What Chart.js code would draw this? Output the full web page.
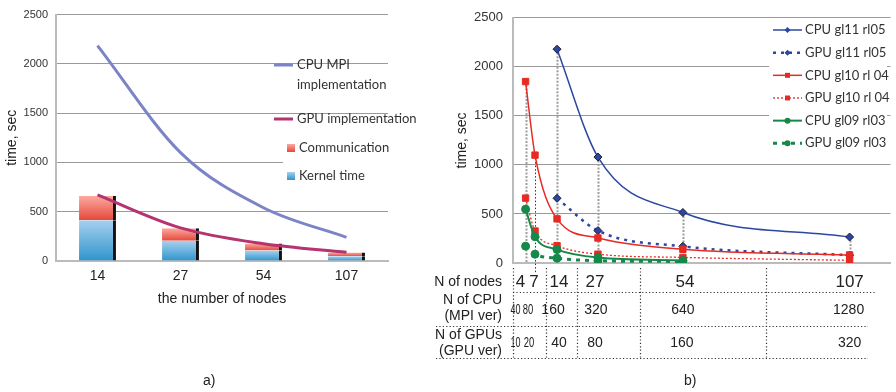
<!DOCTYPE html>
<html><head><meta charset="utf-8">
<script src="https://cdn.jsdelivr.net/npm/chart.js@4.4.0/dist/chart.umd.min.js"></script>
<style>
html,body{margin:0;padding:0;background:#fff;width:896px;height:392px;overflow:hidden;position:relative;font-family:"Liberation Sans",Arial,sans-serif;}
#ca{position:absolute;left:0;top:0;}
#cb{position:absolute;left:430px;top:0;}
.cap{position:absolute;top:372px;font-size:14px;line-height:16px;color:#222;}
</style></head><body>
<canvas id="ca" width="430" height="392"></canvas>
<canvas id="cb" width="466" height="392"></canvas>
<div class="cap" style="left:203px">a)</div>
<div class="cap" style="left:684px">b)</div>
<script>
// ---------- chart a) data ----------
const nodesA = ['14', '27', '54', '107'];
const kernelTime = [413, 205, 106, 47];
const commTime = [247, 128, 72, 39];
const cpuMpi = [2185, 1100, 540, 240];
const gpuImpl = [670, 336, 175, 88];
const legendTextA = [['CPU MPI', 'implementation'], ['GPU implementation'], ['Communication'], ['Kernel time']];

// ---------- chart b) data ----------
const nodesB = [4, 7, 14, 27, 54, 107];
const cpuCountB = [40, 80, 160, 320, 640, 1280];
const gpuCountB = [10, 20, 40, 80, 160, 320];
const cpuGl11 = [null, null, 2180, 1080, 515, 265];
const gpuGl11 = [null, null, 660, 330, 170, 80];
const cpuGl10 = [1850, 1100, 450, 255, 140, 82];
const gpuGl10 = [662, 326, 176, 90, 57, 27];
const cpuGl09 = [549, 268, 137, 55, 25, null];
const gpuGl09 = [172, 90, 49, 23, 16, null];
const tableRowLabels = [['N of nodes'], ['N of CPU', '(MPI ver)'], ['N of GPUs', '(GPU ver)']];
const yTickMax = 2500, yTickStep = 500;

Chart.defaults.font.family = '"Liberation Sans", Arial, sans-serif';
Chart.defaults.color = '#222';

const LEG_FONT = '13px Lato, "Liberation Sans", sans-serif';
const plainTick = v => String(v);

// ---------- chart a) ----------
function barGrad(c, lo, hi, cTop, cBot) {
  const chart = c.chart, y = chart.scales.y;
  if (c.type !== 'data' || !y || !chart.chartArea) return cBot;
  const i = c.dataIndex;
  const top = y.getPixelForValue(hi[i]), bot = y.getPixelForValue(lo[i]);
  if (!isFinite(top) || !isFinite(bot)) return cBot;
  const g = chart.ctx.createLinearGradient(0, top, 0, bot);
  g.addColorStop(0, cTop); g.addColorStop(1, cBot);
  return g;
}
const zeros = nodesA.map(() => 0);
const totals = kernelTime.map((k, i) => k + commTime[i]);

const legendA = {
  id: 'legendA',
  afterDraw(chart) {
    const ctx = chart.ctx;
    const ds = chart.data.datasets;
    ctx.save();
    ctx.fillStyle = '#fff';
    ctx.fillRect(283, 137, 105, 50);
    ctx.font = LEG_FONT; ctx.fillStyle = '#333'; ctx.textBaseline = 'middle'; ctx.textAlign = 'left';
    const lineRows = [65, 119];
    [ds[2], ds[3]].forEach((d, k) => {
      const y = lineRows[k];
      ctx.strokeStyle = d.borderColor; ctx.lineWidth = d.borderWidth;
      ctx.beginPath(); ctx.moveTo(274, y); ctx.lineTo(293, y); ctx.stroke();
      ctx.fillStyle = '#333';
      legendTextA[k].forEach((t, j) => ctx.fillText(t, 297, y + j * 20));
    });
    const boxRows = [148, 176];
    const cols = [['#fcaaa0', '#e4483a'], ['#a6d0ee', '#2f94cc']];
    boxRows.forEach((y, k) => {
      const g = ctx.createLinearGradient(0, y - 4, 0, y + 4);
      g.addColorStop(0, cols[k][0]); g.addColorStop(1, cols[k][1]);
      ctx.fillStyle = g; ctx.fillRect(287, y - 4, 8, 8);
      ctx.fillStyle = '#333';
      ctx.fillText(legendTextA[k + 2][0], 299, y);
    });
    ctx.restore();
  }
};

new Chart(document.getElementById('ca'), {
  data: {
    labels: nodesA,
    datasets: [
      { type: 'bar', label: 'Kernel time', data: kernelTime, stack: 'bars', order: 2,
        backgroundColor: c => barGrad(c, zeros, kernelTime, '#a6d0ee', '#2f94cc'),
        borderColor: '#111', borderWidth: { top: 0, right: 3, bottom: 0, left: 0 }, borderSkipped: false,
        barPercentage: 0.445, categoryPercentage: 1 },
      { type: 'bar', label: 'Communication', data: commTime, stack: 'bars', order: 2,
        backgroundColor: c => barGrad(c, kernelTime, totals, '#fcaaa0', '#e4483a'),
        borderColor: '#111', borderWidth: { top: 0, right: 3, bottom: 0, left: 0 }, borderSkipped: false,
        barPercentage: 0.445, categoryPercentage: 1 },
      { type: 'line', label: 'CPU MPI implementation', data: cpuMpi, stack: 'cpu', order: 1,
        borderColor: '#7b84c6', borderWidth: 3, pointRadius: 0, cubicInterpolationMode: 'monotone', fill: false },
      { type: 'line', label: 'GPU implementation', data: gpuImpl, stack: 'gpu', order: 0,
        borderColor: '#b5336f', borderWidth: 3, pointRadius: 0, cubicInterpolationMode: 'monotone', fill: false }
    ]
  },
  options: {
    responsive: false, animation: false, devicePixelRatio: 1,
    layout: { padding: { top: 8, right: 42, bottom: 0, left: 0 } },
    plugins: { legend: { display: false }, tooltip: { enabled: false } },
    scales: {
      x: {
        stacked: true,
        grid: { display: false, drawTicks: false },
        border: { display: true, color: '#bbb', width: 2 },
        ticks: { padding: 7, font: { size: 14 }, color: '#222' },
        title: { display: true, text: 'the number of nodes', font: { size: 14 }, color: '#222', padding: { top: 0, bottom: 84 } },
        afterFit: s => { s.height = 131; }
      },
      y: {
        stacked: true, min: 0, max: yTickMax,
        ticks: { stepSize: yTickStep, padding: 8, font: { size: 11 }, color: '#333', callback: plainTick },
        grid: { color: '#999', lineWidth: 1, drawTicks: false },
        border: { display: true, color: '#bbb', width: 2 },
        title: { display: true, text: 'time, sec', font: { size: 14 }, color: '#222', padding: { top: 4, bottom: 0 } },
        afterFit: s => { s.width = 56; }
      }
    }
  },
  plugins: [legendA]
});

// ---------- chart b) ----------
function pts(arr) { return nodesB.map((n, i) => arr[i] == null ? null : { x: n, y: arr[i] }).filter(Boolean); }
const BLUE = '#2b47a3', RED = '#e52b24', GREEN = '#16884a';
const seriesB = [
  { label: 'CPU gl11 rl05', arr: cpuGl11, color: BLUE, edge: '#1a1a2a', width: 1.5, dash: [], ps: 'rectRot', r: 4 },
  { label: 'GPU gl11 rl05', arr: gpuGl11, color: BLUE, edge: '#1a1a2a', width: 2.5, dash: [3, 5], ps: 'rectRot', r: 4 },
  { label: 'CPU gl10 rl 04', arr: cpuGl10, color: RED, edge: RED, width: 1.5, dash: [], ps: 'rect', r: 4.5 },
  { label: 'GPU gl10 rl 04', arr: gpuGl10, color: RED, edge: RED, width: 1.3, dash: [2, 2], ps: 'rect', r: 4.5 },
  { label: 'CPU gl09 rl03', arr: cpuGl09, color: GREEN, edge: GREEN, width: 2, dash: [], ps: 'circle', r: 4 },
  { label: 'GPU gl09 rl03', arr: gpuGl09, color: GREEN, edge: GREEN, width: 3, dash: [4, 5], ps: 'circle', r: 4 }
];
const allSeriesB = seriesB.map(s => s.arr);

const dropStyle = ['#9d9d9d', '#333', '#9d9d9d', '#9d9d9d', '#9d9d9d', '#9d9d9d'];

const tableB = {
  id: 'tableB',
  beforeDatasetsDraw(chart) {
    const ctx = chart.ctx, sx = chart.scales.x, sy = chart.scales.y, ca = chart.chartArea;
    ctx.save();
    nodesB.forEach((n, i) => {
      const vals = allSeriesB.map(a => a[i]).filter(v => v != null);
      const top = sy.getPixelForValue(Math.max(...vals));
      const x = Math.round(sx.getPixelForValue(n)) + 0.5;
      ctx.beginPath();
      if (dropStyle[i] === '#333') { ctx.lineWidth = 1; ctx.setLineDash([1.5, 2]); }
      else { ctx.lineWidth = 2; ctx.setLineDash([2, 1.5]); }
      ctx.strokeStyle = dropStyle[i];
      ctx.moveTo(x, top); ctx.lineTo(x, dropStyle[i] === '#333' ? ca.bottom + 10 : ca.bottom);
      ctx.stroke();
    });
    ctx.restore();
  },
  afterDraw(chart) {
    const ctx = chart.ctx, sx = chart.scales.x, ca = chart.chartArea;
    ctx.save();
    ctx.strokeStyle = '#333'; ctx.lineWidth = 1.2; ctx.setLineDash([1.2, 2.2]);
    const hl = [[ca.left, 446, 292.5], [6, 438, 326.5], [6, 438, 358.5]];
    hl.forEach(([x0, x1, y]) => { ctx.beginPath(); ctx.moveTo(x0, y); ctx.lineTo(x1, y); ctx.stroke(); });
    const seps = [ca.left];
    for (let i = 2; i < nodesB.length; i++) seps.push((sx.getPixelForValue(nodesB[i - 1]) + sx.getPixelForValue(nodesB[i])) / 2);
    seps.forEach(x => { x = Math.round(x) + 0.5; ctx.beginPath(); ctx.moveTo(x, 268); ctx.lineTo(x, 358); ctx.stroke(); });
    ctx.setLineDash([]);
    ctx.fillStyle = '#222'; ctx.textBaseline = 'middle'; ctx.textAlign = 'right';
    ctx.font = '14px "Liberation Sans", Arial, sans-serif';
    const labelY = [[282], [300, 316], [335, 351]];
    tableRowLabels.forEach((lines, r) => lines.forEach((t, j) => ctx.fillText(t, ca.left - 11, labelY[r][j])));
    ctx.textAlign = 'center';
    const nudgeN = [-5, -1, 2, -3, 2, 0];
    const nudgeC = [-10, -7, -4, -2, 0, -1];
    const nudgeG = [-10, -6, 2, -3, -1, 0];
    const squeeze = [10, 10.5, null, null, null, null];
    ctx.font = '17px "Liberation Sans", Arial, sans-serif';
    nodesB.forEach((n, i) => ctx.fillText(String(n), sx.getPixelForValue(n) + nudgeN[i], 282.5));
    ctx.font = '14px "Liberation Sans", Arial, sans-serif';
    cpuCountB.forEach((v, i) => {
      const x = sx.getPixelForValue(nodesB[i]) + nudgeC[i];
      squeeze[i] ? ctx.fillText(String(v), x, 310, squeeze[i]) : ctx.fillText(String(v), x, 310);
    });
    gpuCountB.forEach((v, i) => {
      const x = sx.getPixelForValue(nodesB[i]) + nudgeG[i];
      squeeze[i] ? ctx.fillText(String(v), x, 343, squeeze[i]) : ctx.fillText(String(v), x, 343);
    });
    // legend
    ctx.fillStyle = '#fff'; ctx.fillRect(339, 18, 118, 137);
    ctx.font = LEG_FONT; ctx.textAlign = 'left';
    chart.data.datasets.forEach((d, k) => {
      const y = 30 + k * 22.66;
      ctx.strokeStyle = d.borderColor; ctx.lineWidth = d.borderWidth; ctx.setLineDash(d.borderDash || []);
      ctx.beginPath(); ctx.moveTo(343, y); ctx.lineTo(372, y); ctx.stroke();
      ctx.setLineDash([]);
      ctx.fillStyle = d.pointBackgroundColor; ctx.strokeStyle = d.pointBorderColor; ctx.lineWidth = 1;
      Chart.helpers.drawPoint(ctx, { pointStyle: d.pointStyle, radius: d.pointRadius - 1, borderWidth: 0, rotation: 0 }, 357.5, y);
      ctx.fillStyle = '#333';
      ctx.fillText(d.label, 375, y);
    });
    ctx.restore();
  }
};

new Chart(document.getElementById('cb'), {
  type: 'line',
  data: {
    datasets: seriesB.map((s, k) => ({
      label: s.label, data: pts(s.arr), order: 6 - k,
      borderColor: s.color, borderWidth: s.width, borderDash: s.dash,
      pointStyle: s.ps, pointRadius: s.r, pointBackgroundColor: s.color,
      pointBorderColor: s.edge, pointBorderWidth: 1,
      cubicInterpolationMode: 'monotone', fill: false
    }))
  },
  options: {
    responsive: false, animation: false, devicePixelRatio: 1,
    layout: { padding: { top: 8, right: 0, bottom: 0, left: 0 } },
    plugins: { legend: { display: false }, tooltip: { enabled: false } },
    scales: {
      x: {
        type: 'linear', min: 0, max: 120,
        ticks: { display: false },
        grid: { display: false, drawTicks: false },
        border: { display: true, color: '#bbb', width: 2 },
        afterFit: s => { s.height = 129; }
      },
      y: {
        min: 0, max: yTickMax,
        ticks: { stepSize: yTickStep, padding: 10, font: { size: 13 }, color: '#333', callback: plainTick },
        grid: { color: '#999', lineWidth: 1, drawTicks: false },
        border: { display: true, color: '#bbb', width: 2 },
        title: { display: true, text: 'time, sec', font: { size: 14 }, color: '#222', padding: { top: 24, bottom: 0 } },
        afterFit: s => { s.width = 83; }
      }
    }
  },
  plugins: [tableB]
});
</script>
</body></html>
